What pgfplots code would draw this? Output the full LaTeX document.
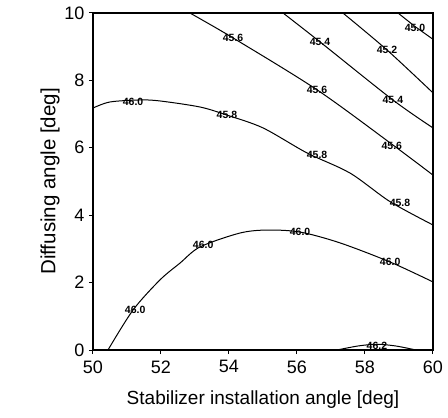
\documentclass[border=0pt]{standalone}
\usepackage{pgfplots}
\pgfplotsset{compat=1.18}
\usepackage{fontspec}
\setmainfont{Liberation Sans}
\begin{document}
\begin{tikzpicture}
\useasboundingbox (-93pt,-68pt) rectangle (355pt,350pt);
\begin{axis}[
  at={(0,0)}, anchor=south west,
  scale only axis, width=340pt, height=337pt,
  xmin=50, xmax=60, ymin=0, ymax=10,
  xtick={50,52,...,60}, ytick={0,2,...,10},
  tick align=outside, tick pos=left,
  major tick length=4pt,
  axis line style={line width=1.3pt},
  every tick/.style={black, line width=1pt},
  /pgf/number format/assume math mode=true,
  ticklabel style={font=\fontsize{18}{20}\selectfont},
  xticklabel style={yshift=-3pt},
  yticklabel style={xshift=-1pt},
  xlabel={Stabilizer installation angle [deg]},
  ylabel={Diffusing angle [deg]},
  every axis x label/.style={at={(axis description cs:0.5,0)}, anchor=center, yshift=-50pt, font=\fontsize{19}{22}\selectfont},
  every axis y label/.style={at={(axis description cs:0,0.5)}, anchor=center, rotate=90, yshift=43pt, font=\fontsize{20.5}{22}\selectfont},
  clip=true,
]
% 45.0
\addplot[black, line width=1pt] coordinates {(58.97,10) (59.47,9.6) (60,9.22)};
% 45.2
\addplot[black, line width=1pt, smooth] coordinates {(57.35,10) (58.65,8.90) (60,7.63)};
% 45.4
\addplot[black, line width=1pt, smooth] coordinates {(55.59,10) (56.68,9.14) (58.82,7.42) (60,6.59)};
% 45.6
\addplot[black, line width=1pt, smooth] coordinates {(52.85,10) (54.12,9.26) (56.59,7.72) (58.80,6.1) (60,5.19)};
% 45.8
\addplot[black, line width=1pt, smooth] coordinates {(50,7.18) (50.5,7.36) (51.38,7.42) (51.97,7.39) (53.15,7.21) (53.94,6.97) (55,6.59) (56.29,5.85) (57.56,5.25) (58.74,4.40) (60,3.71)};
% 46.0
\addplot[black, line width=1pt, smooth] coordinates {(50.44,0) (51.18,1.19) (51.97,2.08) (52.56,2.58) (53.15,3.06) (54.32,3.47) (55.12,3.56) (56.09,3.50) (57.26,3.18) (58.74,2.61) (60,2.02)};
% 46.2
\addplot[black, line width=1pt, smooth] coordinates {(57.18,0) (57.8,0.12) (58.35,0.17) (58.9,0.12) (59.5,0)};
\begin{scope}[every node/.style={font=\fontsize{10.5}{11}\selectfont\bfseries, inner sep=0pt}]
\node at (axis cs:59.47,9.55) {45.0};
\node at (axis cs:58.65,8.90) {45.2};
\node at (axis cs:56.68,9.14) {45.4};
\node at (axis cs:54.12,9.26) {45.6};
\node at (axis cs:56.59,7.72) {45.6};
\node at (axis cs:58.82,7.42) {45.4};
\node at (axis cs:51.18,7.36) {46.0};
\node at (axis cs:53.94,6.97) {45.8};
\node at (axis cs:56.59,5.79) {45.8};
\node at (axis cs:58.79,6.05) {45.6};
\node at (axis cs:59.03,4.36) {45.8};
\node at (axis cs:53.24,3.12) {46.0};
\node at (axis cs:56.09,3.50) {46.0};
\node at (axis cs:58.74,2.61) {46.0};
\node at (axis cs:51.24,1.19) {46.0};
\node at (axis cs:58.35,0.12) {46.2};
\end{scope}
\end{axis}
\end{tikzpicture}
\end{document}
